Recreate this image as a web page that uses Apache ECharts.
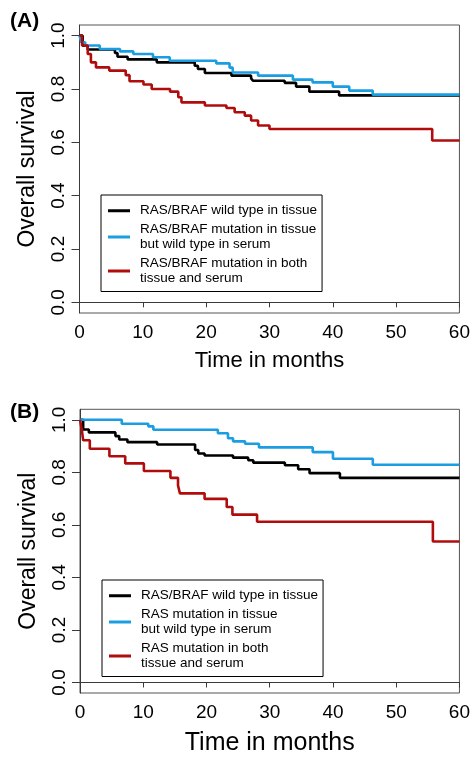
<!DOCTYPE html>
<html>
<head>
<meta charset="utf-8">
<script src="https://cdn.jsdelivr.net/npm/echarts@6/dist/echarts.min.js"></script>
<style>
html,body{margin:0;padding:0;background:#fff;}
#chart{width:473px;height:757px;}
</style>
</head>
<body>
<div id="chart"></div>
<script>
// ---- Tick labels ----
const xTicks = [0, 10, 20, 30, 40, 50, 60];
const yTicks = [0, 0.2, 0.4, 0.6, 0.8, 1.0];

// ---- Legend names ----
const namesA = ['RAS/BRAF wild type in tissue', 'RAS/BRAF mutation in tissue\nbut wild type in serum', 'RAS/BRAF mutation in both\ntissue and serum'];
const namesB = ['RAS/BRAF wild type in tissue', 'RAS mutation in tissue\nbut wild type in serum', 'RAS mutation in both\ntissue and serum'];

// ---- Panel A ----
const tA_wild = [0, 0.5, 1.3, 5.6, 6.0, 7.6, 12.2, 18.2, 18.7, 19.8, 24.0, 27.1, 27.4, 32.4, 34.2, 36.3, 41.0, 60];
const sA_wild = [1.0, 0.962, 0.948, 0.935, 0.921, 0.911, 0.900, 0.887, 0.875, 0.860, 0.850, 0.840, 0.831, 0.823, 0.809, 0.790, 0.776, 0.776];
const tA_tissue = [0, 0.3, 0.9, 3.2, 6.4, 8.5, 11.6, 14.25, 21.6, 23.7, 24.2, 28.2, 33.7, 36.8, 40.0, 42.6, 46.3, 60];
const sA_tissue = [1.0, 0.975, 0.963, 0.950, 0.941, 0.931, 0.919, 0.906, 0.896, 0.880, 0.862, 0.850, 0.835, 0.825, 0.809, 0.794, 0.779, 0.779];
const tA_both = [0, 0.4, 1.3, 1.8, 2.6, 4.7, 7.3, 7.9, 10.1, 11.4, 14.3, 15.6, 16.1, 19.8, 23.2, 24.5, 26.1, 27.1, 28.2, 30.0, 55.7, 60];
const sA_both = [1.0, 0.963, 0.931, 0.900, 0.881, 0.869, 0.852, 0.829, 0.817, 0.800, 0.790, 0.769, 0.750, 0.738, 0.729, 0.713, 0.700, 0.682, 0.663, 0.650, 0.607, 0.607];

// ---- Panel B ----
const tB_wild = [0, 0.5, 1.4, 5.6, 6.2, 7.5, 12.2, 18.2, 18.7, 19.7, 24.2, 26.6, 27.4, 32.4, 34.5, 36.3, 41.1, 60];
const sB_wild = [1.0, 0.963, 0.952, 0.938, 0.925, 0.915, 0.906, 0.885, 0.872, 0.864, 0.856, 0.846, 0.837, 0.827, 0.812, 0.797, 0.779, 0.779];
const tB_tissue = [0, 6.6, 10.8, 11.6, 21.8, 23.4, 24.2, 26.1, 28.3, 36.8, 40.0, 46.3, 60];
const sB_tissue = [1.0, 0.985, 0.975, 0.962, 0.949, 0.930, 0.918, 0.909, 0.895, 0.877, 0.852, 0.829, 0.829];
const tB_both = [0, 0.3, 0.5, 1.55, 4.65, 7.15, 10.1, 14.3, 15.5, 15.8, 19.7, 23.2, 24.1, 28.0, 55.8, 60];
const sB_both = [1.0, 0.960, 0.922, 0.890, 0.861, 0.834, 0.805, 0.779, 0.750, 0.720, 0.699, 0.668, 0.639, 0.612, 0.537, 0.537];

const colors = ['#000000', '#1b9de2', '#b00c0c'];
const FONT = '"Liberation Sans", Arial, Helvetica, sans-serif';

function zip(t, s) { return t.map((v, i) => [v, s[i]]); }

const chart = echarts.init(document.getElementById('chart'), null, {renderer: 'canvas'});

const axisLineStyle = {color: '#3a3a3a', width: 1};

function xAxisDef(idx, nameSize, nameGap) {
  return {
    type: 'value', gridIndex: idx, min: 0, max: 60, interval: 10,
    name: 'Time in months', nameLocation: 'middle', nameGap: nameGap,
    nameTextStyle: {fontSize: nameSize, color: '#000', fontFamily: FONT},
    axisLine: {show: true, lineStyle: axisLineStyle},
    axisTick: {show: true, length: 5, lineStyle: axisLineStyle},
    axisLabel: {fontSize: 19, color: '#000', fontFamily: FONT, margin: 10,
      customValues: xTicks},
    splitLine: {show: false}
  };
}
function yAxisDef(idx) {
  return {
    type: 'value', gridIndex: idx, min: -0.04, max: 1.04,
    name: 'Overall survival', nameLocation: 'middle', nameGap: 40,
    nameTextStyle: {fontSize: 23, color: '#000', fontFamily: FONT},
    axisLine: {show: true, lineStyle: axisLineStyle},
    axisTick: {show: true, length: 8, lineStyle: axisLineStyle, customValues: yTicks},
    axisLabel: {fontSize: 19, color: '#000', fontFamily: FONT, rotate: 90, margin: 11,
      customValues: yTicks, formatter: v => v.toFixed(1)},
    splitLine: {show: false}
  };
}
function legendDef(names, left, top) {
  return {
    data: names, left: left, top: top, orient: 'vertical',
    icon: 'rect', itemWidth: 22, itemHeight: 3, itemGap: 3,
    padding: [8, 5, 5, 7],
    borderColor: '#000', borderWidth: 1, backgroundColor: '#fff',
    selectedMode: false,
    textStyle: {fontSize: 13.5, lineHeight: 15.5, color: '#000', fontFamily: FONT, padding: [0, 0, 0, 5]}
  };
}
function lineSeries(name, t, s, color, xi, yi) {
  return {
    type: 'line', name: name, xAxisIndex: xi, yAxisIndex: yi,
    data: zip(t, s), step: 'end', symbol: 'none', showSymbol: false,
    color: color, lineStyle: {color: color, width: 2.6},
    animation: false
  };
}

const option = {
  animation: false,
  backgroundColor: '#fff',
  textStyle: {fontFamily: FONT},
  grid: [
    {left: 79.5, top: 25, width: 380.5, height: 288, show: true, borderColor: '#555', borderWidth: 1, backgroundColor: 'transparent'},
    {left: 80, top: 409.3, width: 380, height: 287, show: true, borderColor: '#555', borderWidth: 1, backgroundColor: 'transparent'}
  ],
  xAxis: [xAxisDef(0, 22, 37), xAxisDef(1, 25, 38)],
  yAxis: [yAxisDef(0), yAxisDef(1)],
  legend: [legendDef(namesA, 101, 195), legendDef(namesB, 102, 580)],
  graphic: [
    {type: 'text', left: 10, top: 11, style: {text: '(A)', font: 'bold 21px ' + FONT, fill: '#000'}},
    {type: 'text', left: 10, top: 402, style: {text: '(B)', font: 'bold 21px ' + FONT, fill: '#000'}}
  ],
  series: [
    lineSeries(namesA[0], tA_wild, sA_wild, colors[0], 0, 0),
    lineSeries(namesA[1], tA_tissue, sA_tissue, colors[1], 0, 0),
    lineSeries(namesA[2], tA_both, sA_both, colors[2], 0, 0),
    lineSeries(namesB[0], tB_wild, sB_wild, colors[0], 1, 1),
    lineSeries(namesB[1], tB_tissue, sB_tissue, colors[1], 1, 1),
    lineSeries(namesB[2], tB_both, sB_both, colors[2], 1, 1)
  ]
};
chart.setOption(option);
</script>
</body>
</html>
